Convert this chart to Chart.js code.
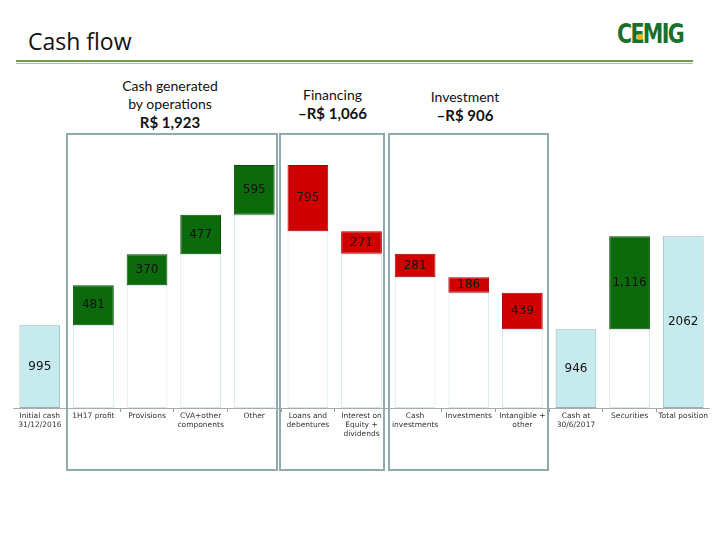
<!DOCTYPE html>
<html><head><meta charset="utf-8">
<script src="https://cdn.jsdelivr.net/npm/chart.js@4"></script>
<style>
html,body{margin:0;padding:0;background:#fff;width:720px;height:540px;overflow:hidden;font-family:Lato,"Open Sans",sans-serif;}
#title{position:absolute;left:28px;top:25px;font-size:23px;color:#111;font-family:"Open Sans",Lato,sans-serif;}
#logo{position:absolute;left:617px;top:18px;font-size:27px;font-weight:900;color:#1b6e2e;font-family:"DejaVu Sans Condensed","DejaVu Sans",sans-serif;letter-spacing:-2px;transform:scaleX(0.85);transform-origin:left top;}
#dot{position:absolute;left:637px;top:34px;width:6px;height:6px;border-radius:3px;background:#f0b400;}
.rule1{position:absolute;left:16px;top:60px;width:677px;height:2px;background:#6f9a4e;}
.rule2{position:absolute;left:16px;top:63px;width:677px;height:1px;background:#a9c98d;}
.box{position:absolute;border:2px solid #8fabb0;box-sizing:border-box;}
.hdr{position:absolute;text-align:center;font-size:14px;color:#111;line-height:18px;}
.hdr b{font-size:15px;}
#wrap{position:absolute;left:13px;top:110px;width:697px;height:329px;}
</style></head>
<body>
<div id="title">Cash flow</div>
<div id="logo">CEMIG</div><div id="dot"></div>
<div class="rule1"></div><div class="rule2"></div>
<div class="hdr" style="left:95px;top:77px;width:150px;">Cash generated<br>by operations<br><b>R$ 1,923</b></div>
<div class="hdr" style="left:270px;top:86px;width:125px;">Financing<br><b>–R$ 1,066</b></div>
<div class="hdr" style="left:395px;top:88px;width:140px;">Investment<br><b>–R$ 906</b></div>
<div id="wrap"><canvas id="c"></canvas></div>
<div class="box" style="left:66px;top:133px;width:212px;height:338px;"></div>
<div class="box" style="left:279px;top:133px;width:106px;height:338px;"></div>
<div class="box" style="left:388px;top:133px;width:161px;height:338px;"></div>
<script>
const categories = [["Initial cash","31/12/2016"],"1H17 profit","Provisions",["CVA+other","components"],"Other",["Loans and","debentures"],["Interest on","Equity +","dividends"],["Cash","investments"],"Investments",["Intangible +","other"],["Cash at","30/6/2017"],"Securities","Total position"];
const values = [995, 481, 370, 477, 595, -795, -271, -281, -186, -439, 946, 1116, 2062];
const kinds = ["total","delta","delta","delta","delta","delta","delta","delta","delta","delta","total","delta","total"];
const valueLabels = ["995","481","370","477","595","795","271","281","186","439","946","1,116","2062"];

let run = 0;
const floating = [], ghost = [], fills = [], borders = [];
values.forEach((v,i)=>{
  let s,e;
  if(kinds[i]==="total"){ s=0; e=v; run=v; }
  else { s=run; e=run+v; run=e; }
  floating.push([s,e]);
  ghost.push(kinds[i]==="total" ? null : [0, Math.min(s,e)]);
  if(kinds[i]==="total"){ fills.push("#c6ebef"); borders.push("#8fb3b6"); }
  else if(v>0){ fills.push("#0b6a0b"); borders.push("#075207"); }
  else { fills.push("#d10000"); borders.push("#a30000"); }
});

const labelPlugin = {
  id:"vals",
  afterDatasetsDraw(chart){
    const ctx=chart.ctx;
    const meta=chart.getDatasetMeta(1);
    ctx.save();
    ctx.font="12px 'DejaVu Sans', Verdana, sans-serif";
    ctx.fillStyle="#111";
    ctx.textAlign="center";ctx.textBaseline="middle";
    meta.data.forEach((bar,i)=>{
      const y=(bar.y+bar.base)/2;
      ctx.fillText(valueLabels[i], bar.x, y);
    });
    ctx.restore();
  }
};

new Chart(document.getElementById("c"),{
  type:"bar",
  data:{labels:categories,datasets:[
    {data:ghost,backgroundColor:"#ffffff",borderColor:"#d3e6ea",borderWidth:1,borderSkipped:false,grouped:false,categoryPercentage:1,barPercentage:0.76},
    {data:floating,backgroundColor:fills,borderColor:borders,borderWidth:1,borderSkipped:false,grouped:false,categoryPercentage:1,barPercentage:0.76}
  ]},
  options:{
    responsive:true,maintainAspectRatio:false,animation:false,
    layout:{padding:0},
    plugins:{legend:{display:false},tooltip:{enabled:false}},
    scales:{
      x:{grid:{display:true,drawOnChartArea:false,offset:true,tickLength:4,color:"#999"},border:{display:true,color:"#aaa"},
         ticks:{font:{family:"'DejaVu Sans', Verdana, sans-serif",size:7.5},color:"#333",maxRotation:0,autoSkip:false,padding:0}},
      y:{display:false,min:0,max:3580}
    }
  },
  plugins:[labelPlugin]
});
</script>
</body></html>
